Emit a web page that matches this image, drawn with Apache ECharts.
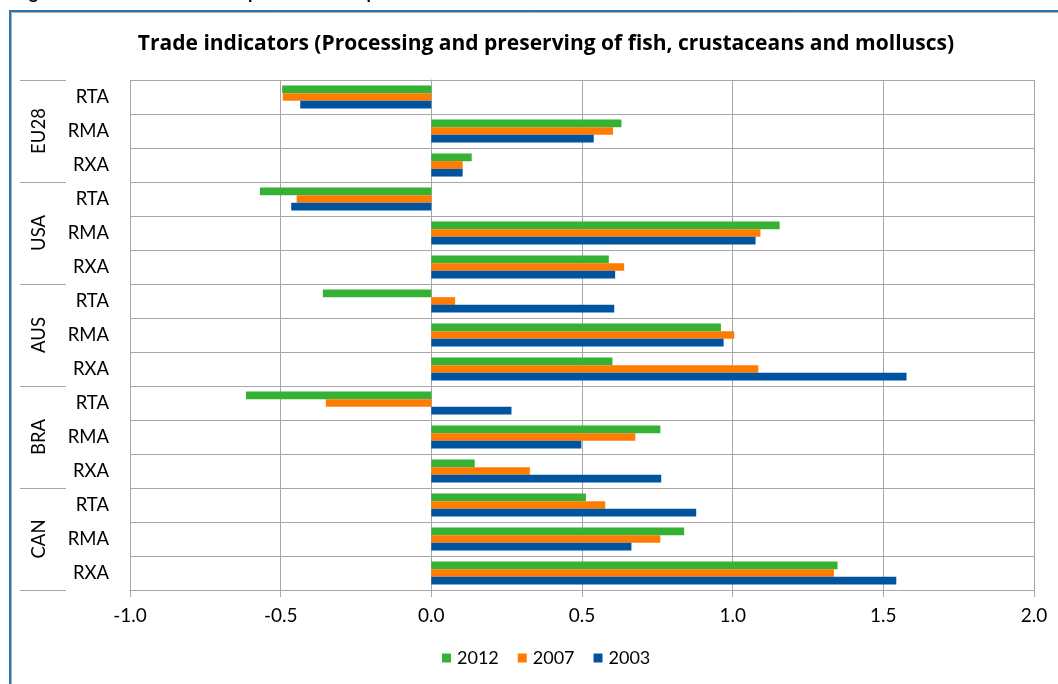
<!DOCTYPE html>
<html>
<head>
<meta charset="utf-8">
<script src="https://cdn.jsdelivr.net/npm/echarts@6/dist/echarts.min.js"></script>
<style>
html,body{margin:0;padding:0;background:#fff;}
#chart{width:1058px;height:684px;}
</style>
</head>
<body>
<div id="chart"></div>
<script>
// ---- data ----
const countries = ["EU28", "USA", "AUS", "BRA", "CAN"];
const indicators = ["RTA", "RMA", "RXA"];
const seriesNames = ["2012", "2007", "2003"];
// values per category in order: EU28 RTA, RMA, RXA, USA RTA, RMA, RXA, ...
const values2012 = [-0.495, 0.631, 0.134, -0.569, 1.156, 0.589, -0.360, 0.961, 0.601, -0.615, 0.760, 0.144, 0.513, 0.839, 1.348];
const values2007 = [-0.493, 0.603, 0.104, -0.447, 1.092, 0.640, 0.079, 1.005, 1.085, -0.350, 0.677, 0.327, 0.577, 0.760, 1.336];
const values2003 = [-0.435, 0.539, 0.104, -0.465, 1.076, 0.610, 0.607, 0.970, 1.577, 0.266, 0.498, 0.763, 0.879, 0.664, 1.543];
const xTicks = { min: -1.0, max: 2.0, interval: 0.5 };
const titleText = "Trade indicators (Processing and preserving of fish, crustaceans and molluscs)";
const captionText = "Figure 5: Trade indicators for processed fish products";

const colors = ["#35B234", "#FF7C00", "#00549F"];
const FONT = "Lato, 'Open Sans', sans-serif";
const TITLE_FONT = "'Open Sans', Lato, sans-serif";

const categories = [];
countries.forEach(c => indicators.forEach(i => categories.push(c + "|" + i)));
const seriesValues = [values2012, values2007, values2003];
const gridColor = "#A6A6A6";

const chart = echarts.init(document.getElementById("chart"), null, { renderer: "canvas" });
chart.setOption({
  animation: false,
  backgroundColor: "#fff",
  textStyle: { fontFamily: FONT },
  title: {
    text: titleText,
    left: 541, top: 29, textAlign: "center",
    textStyle: { fontFamily: TITLE_FONT, fontWeight: "bold", fontSize: 21, color: "#000" }
  },
  legend: {
    data: seriesNames,
    bottom: 12, left: 437,
    itemWidth: 9, itemHeight: 9, itemGap: 19,
    icon: "rect",
    textStyle: { fontFamily: FONT, fontSize: 18, color: "#000", padding: [0, 0, 0, 1] }
  },
  grid: { left: 130, right: 24, top: 80, bottom: 94, containLabel: false },
  xAxis: {
    type: "value",
    min: xTicks.min, max: xTicks.max, interval: xTicks.interval,
    axisLine: { show: true, onZero: false, lineStyle: { color: gridColor, width: 1 } },
    axisTick: { show: true, length: 7, lineStyle: { color: gridColor } },
    splitLine: { show: true, lineStyle: { color: gridColor, width: 1 } },
    axisLabel: { fontFamily: FONT, fontSize: 19, color: "#000", margin: 16,
      formatter: v => v.toFixed(1) }
  },
  yAxis: [
    {
      type: "category",
      data: categories,
      inverse: true,
      boundaryGap: true,
      axisLine: { show: true, lineStyle: { color: gridColor } },
      axisTick: { show: true, length: 64, lineStyle: { color: gridColor } },
      splitLine: { show: true, lineStyle: { color: gridColor, width: 1 } },
      axisLabel: { fontFamily: FONT, fontSize: 18.5, color: "#000", margin: 21,
        formatter: v => v.split("|")[1] }
    },
    {
      type: "category",
      data: countries,
      inverse: true,
      position: "left",
      offset: 64,
      boundaryGap: true,
      axisLine: { show: false },
      axisTick: { show: true, length: 46, lineStyle: { color: gridColor } },
      splitLine: { show: false },
      axisLabel: { fontFamily: FONT, fontSize: 18.5, color: "#000", rotate: 90, margin: 17 }
    }
  ],
  series: seriesNames.map((name, k) => ({
    name: name,
    type: "bar",
    yAxisIndex: 0,
    data: seriesValues[k],
    itemStyle: { color: colors[k] },
    barGap: "0%",
    barCategoryGap: "32%"
  })),
  graphic: [
    {
      type: "text", left: 14, top: -16,
      style: { text: captionText, font: "bold 18px " + FONT, fill: "#000" }
    },
    {
      type: "rect", shape: { x: 10, y: 11, width: 1200, height: 1000 },
      style: { fill: null, stroke: "#2E75B6", lineWidth: 2 }
    },
    {
      type: "rect", shape: { x: 11.5, y: 12.5, width: 1200, height: 1000 },
      style: { fill: null, stroke: "#B0B0B0", lineWidth: 1 }
    }
  ]
});
</script>
</body>
</html>
